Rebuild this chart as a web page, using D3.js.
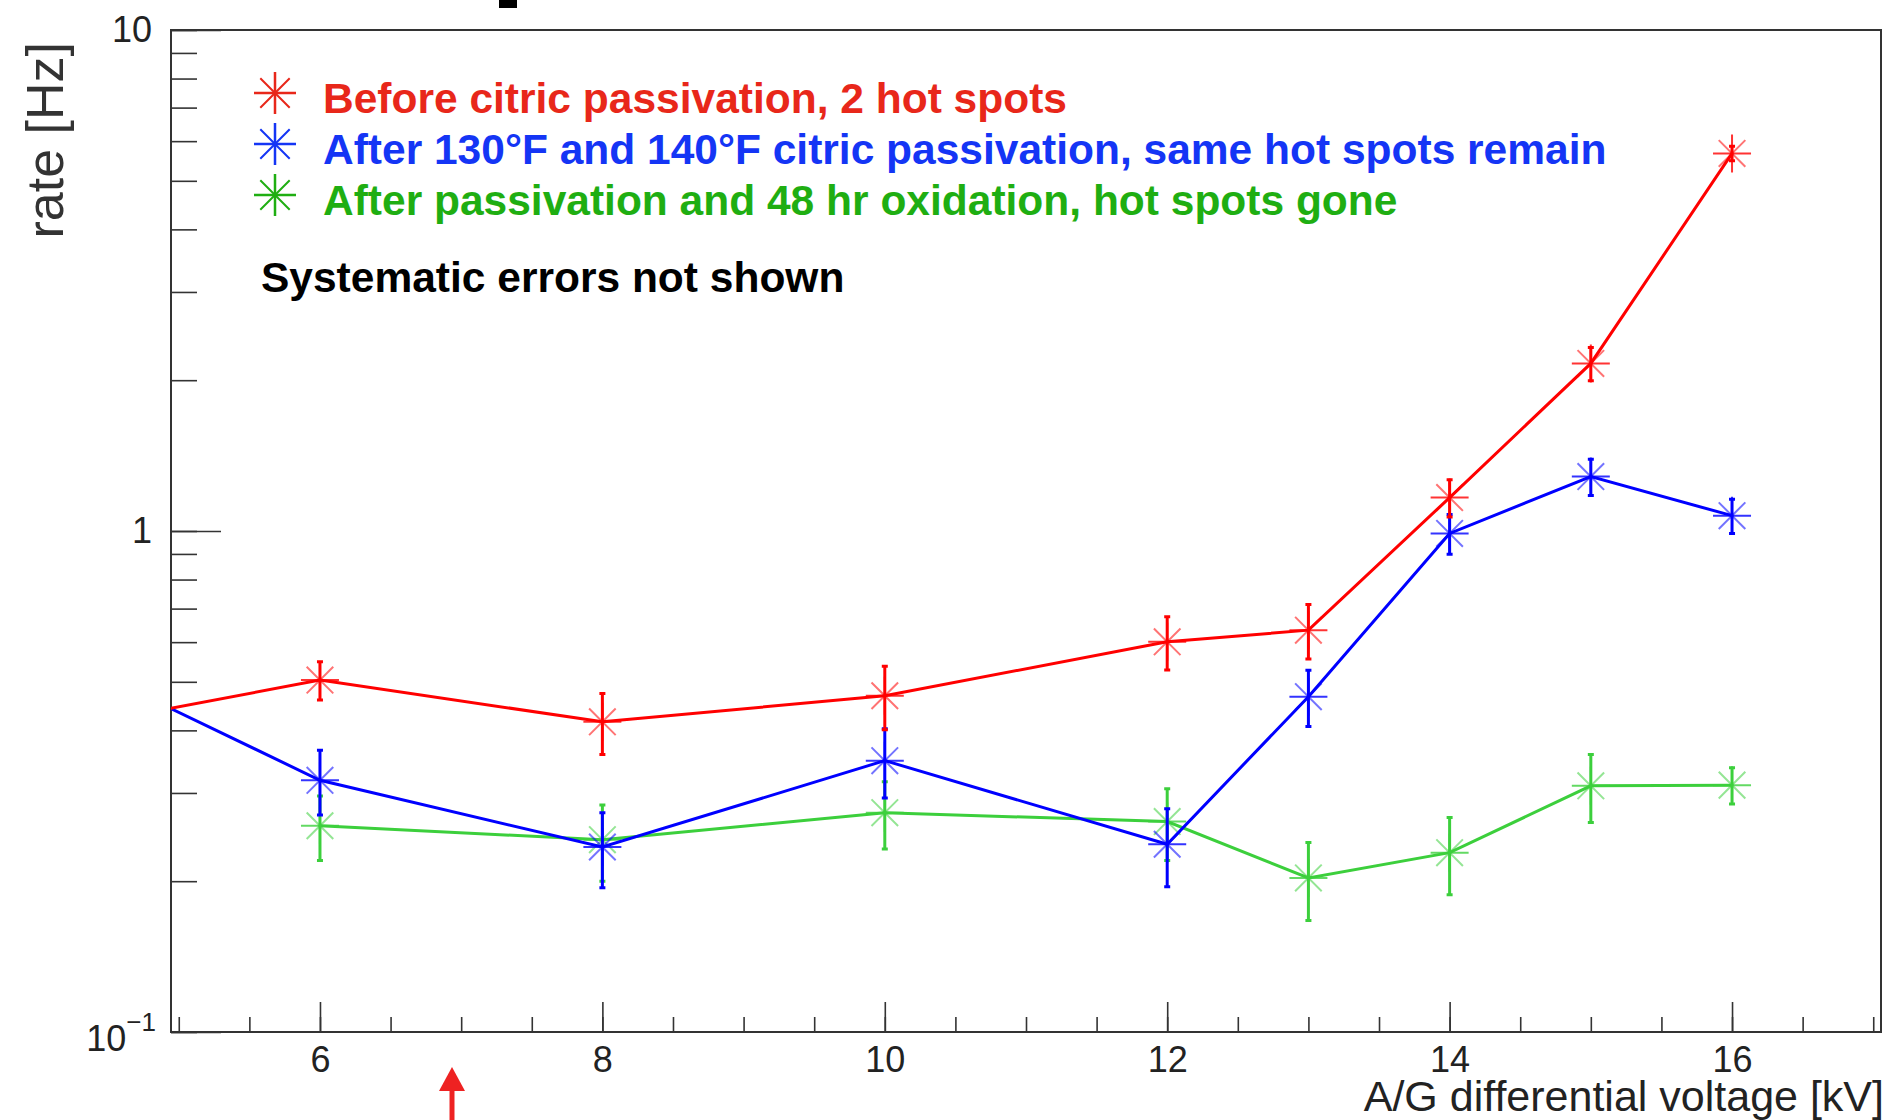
<!DOCTYPE html>
<html>
<head>
<meta charset="utf-8">
<script src="https://cdn.jsdelivr.net/npm/d3@7"></script>
<style>
body { margin: 0; background: #fff; }
text { font-family: "Liberation Sans", Arial, Helvetica, sans-serif; }
</style>
</head>
<body>
<script>
var width = 1892,
    height = 1120;

// rate [Hz] vs A/G differential voltage [kV]; first point at 4 kV lies left of the frame
var voltage = [4, 6, 8, 10, 12, 13, 14, 15, 16];
var beforeRate = [0.394, 0.504, 0.416, 0.469, 0.601, 0.634, 1.166, 2.16, 5.67];
var beforeErr  = [0.04, 0.044, 0.058, 0.068, 0.073, 0.079, 0.10, 0.165, 0.19];
var afterRate  = [0.594, 0.318, 0.234, 0.348, 0.237, 0.467, 0.989, 1.284, 1.073];
var afterErr   = [0.05, 0.047, 0.04, 0.055, 0.042, 0.06, 0.09, 0.107, 0.084];

var oxVoltage = [6, 8, 10, 12, 13, 14, 15, 16];
var oxRate    = [0.258, 0.242, 0.274, 0.263, 0.203, 0.228, 0.310, 0.311];
var oxErr     = [0.038, 0.042, 0.042, 0.043, 0.036, 0.04, 0.048, 0.026];

var legendLabels = [
  "Before citric passivation, 2 hot spots",
  "After 130°F and 140°F citric passivation, same hot spots remain",
  "After passivation and 48 hr oxidation, hot spots gone"
];
var lineColors = ["#ff0000", "#0000ff", "#3ccf3c"];
var textColors = ["#e8271a", "#1435f5", "#1fae12"];

var xMajorTicks = [6, 8, 10, 12, 14, 16];
var xMinorTicks = d3.range(5, 17.01, 0.5);
var yMajorTicks = [0.1, 1, 10];

var x = d3.scaleLinear().domain([4.945, 17.055]).range([171, 1881]);
var y = d3.scaleLog().domain([0.1, 10]).range([1032, 30]);

var svg = d3.select("body").append("svg")
    .attr("width", width)
    .attr("height", height);

svg.append("defs").append("clipPath")
    .attr("id", "plotclip")
  .append("rect")
    .attr("x", x.range()[0])
    .attr("y", y.range()[1])
    .attr("width", x.range()[1] - x.range()[0])
    .attr("height", y.range()[0] - y.range()[1]);

// bit of the cropped slide title above the frame
svg.append("rect")
    .attr("x", 499).attr("y", 0)
    .attr("width", 18).attr("height", 8)
    .attr("fill", "#000");

// x axis: minor ticks, then major ticks with labels
svg.append("g")
    .attr("transform", "translate(0," + y.range()[0] + ")")
    .call(d3.axisBottom(x).tickValues(xMinorTicks).tickSize(-15).tickFormat(""));

var xAxis = svg.append("g")
    .attr("transform", "translate(0," + y.range()[0] + ")")
    .call(d3.axisBottom(x).tickValues(xMajorTicks).tickSize(-30).tickPadding(14)
      .tickFormat(d3.format("d")));

// y axis (log)
svg.append("g")
    .attr("transform", "translate(" + x.range()[0] + ",0)")
    .call(d3.axisLeft(y).tickValues(y.ticks()).tickSize(-26).tickFormat(""));

var yAxis = svg.append("g")
    .attr("transform", "translate(" + x.range()[0] + ",0)")
    .call(d3.axisLeft(y).tickValues(yMajorTicks).tickSize(-50).tickPadding(19)
      .tickFormat(function(d) { return d >= 1 ? d3.format("d")(d) : ""; }));

svg.selectAll(".domain").remove();
svg.selectAll(".tick line").attr("stroke", "#333").attr("stroke-width", 1.6);
svg.selectAll(".tick text")
    .attr("font-size", 36)
    .attr("fill", "#222")
    .style("font-family", "'Liberation Sans', Arial, sans-serif");

// 10^-1 label
yAxis.selectAll(".tick text")
    .filter(function(d) { return d < 1; })
    .attr("dy", "0.5em")
    .attr("dx", 4)
    .each(function() {
      var t = d3.select(this);
      t.append("tspan").text("10");
      t.append("tspan").attr("dy", "-0.75em").attr("font-size", 26).text("\u22121");
    });

// frame
svg.append("rect")
    .attr("x", x.range()[0])
    .attr("y", y.range()[1])
    .attr("width", x.range()[1] - x.range()[0])
    .attr("height", y.range()[0] - y.range()[1])
    .attr("fill", "none")
    .attr("stroke", "#333")
    .attr("stroke-width", 2);

// axis titles
svg.append("text")
    .attr("x", 1884)
    .attr("y", 1111)
    .attr("text-anchor", "end")
    .attr("font-size", 43)
    .attr("fill", "#222")
    .text("A/G differential voltage [kV]");

svg.append("text")
    .attr("transform", "translate(63,42) rotate(-90)")
    .attr("text-anchor", "end")
    .attr("font-size", 52)
    .attr("fill", "#333")
    .text("rate [Hz]");

function starPath(r) {
  return "M" + (-r) + ",0H" + r + "M0," + (-r) + "V" + r;
}
function diagPath(r) {
  var d = r * 0.7;
  return "M" + (-d) + "," + (-d) + "L" + d + "," + d + "M" + (-d) + "," + d + "L" + d + "," + (-d);
}

var series = [
  {xs: voltage, ys: beforeRate, es: beforeErr},
  {xs: voltage, ys: afterRate, es: afterErr},
  {xs: oxVoltage, ys: oxRate, es: oxErr}
];

var plot = svg.append("g").attr("clip-path", "url(#plotclip)");

var line = d3.line()
    .x(function(d) { return x(d.x); })
    .y(function(d) { return y(d.y); });

// draw green first so red/blue sit on top like the original
[2, 1, 0].forEach(function(i) {
  var s = series[i];
  var pts = s.xs.map(function(v, j) { return {x: v, y: s.ys[j], e: s.es[j]}; });
  var g = plot.append("g");

  g.append("path")
    .datum(pts)
    .attr("d", line)
    .attr("fill", "none")
    .attr("stroke", lineColors[i])
    .attr("stroke-width", 3);

  var pt = g.selectAll("g.pt")
    .data(pts)
    .enter().append("g")
    .attr("class", "pt")
    .attr("transform", function(d) { return "translate(" + x(d.x) + "," + y(d.y) + ")"; });

  // error bars
  pt.append("line")
    .attr("x1", 0).attr("x2", 0)
    .attr("y1", function(d) { return y(d.y + d.e) - y(d.y); })
    .attr("y2", function(d) { return y(d.y - d.e) - y(d.y); })
    .attr("stroke", lineColors[i])
    .attr("stroke-width", 3);
  pt.append("path")
    .attr("d", function(d) {
      var a = y(d.y + d.e) - y(d.y), b = y(d.y - d.e) - y(d.y);
      return "M-3," + a + "H3M-3," + b + "H3";
    })
    .attr("stroke", lineColors[i])
    .attr("stroke-width", 3);

  // asterisk markers
  pt.append("path")
    .attr("d", diagPath(19))
    .attr("stroke", lineColors[i])
    .attr("stroke-opacity", 0.55)
    .attr("stroke-width", 2);
  pt.append("path")
    .attr("d", starPath(19))
    .attr("stroke", lineColors[i])
    .attr("stroke-opacity", 0.8)
    .attr("stroke-width", 2);
});

// legend
var legend = svg.append("g")
    .selectAll("g")
    .data(legendLabels)
    .enter().append("g")
    .attr("transform", function(d, i) { return "translate(275," + (93 + i * 51) + ")"; });

legend.append("path")
    .attr("d", diagPath(21))
    .attr("stroke", function(d, i) { return textColors[i]; })
    .attr("stroke-width", 2);
legend.append("path")
    .attr("d", starPath(21))
    .attr("stroke", function(d, i) { return textColors[i]; })
    .attr("stroke-width", 2.5);
legend.append("text")
    .attr("x", 48)
    .attr("y", 20)
    .attr("font-size", 42.5)
    .attr("font-weight", "bold")
    .attr("fill", function(d, i) { return textColors[i]; })
    .text(function(d) { return d; });

svg.append("text")
    .attr("x", 261)
    .attr("y", 292)
    .attr("font-size", 42.5)
    .attr("font-weight", "bold")
    .attr("fill", "#000")
    .text("Systematic errors not shown");

// red arrow under the axis
svg.append("path")
    .attr("d", "M452,1120V1088")
    .attr("stroke", "#ee2222")
    .attr("stroke-width", 5);
svg.append("path")
    .attr("d", "M452,1067L465,1091H439Z")
    .attr("fill", "#ee2222");
</script>
</body>
</html>
